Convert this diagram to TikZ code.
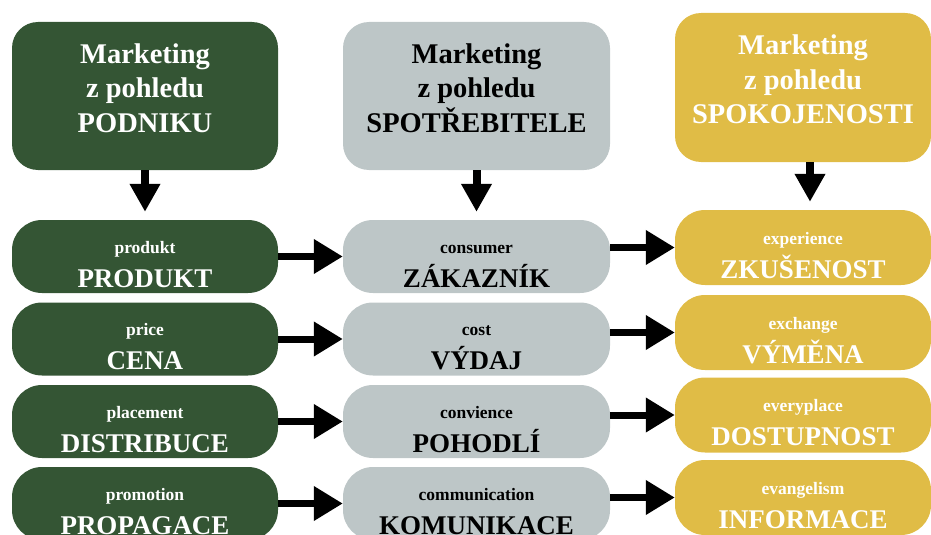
\documentclass[tikz,border=0pt]{standalone}
\usepackage{fontspec}
\setmainfont{Liberation Serif}
\usetikzlibrary{arrows.meta,positioning}
\definecolor{podnik}{RGB}{52,85,52}
\definecolor{spotreb}{RGB}{189,198,199}
\definecolor{spokoj}{RGB}{224,188,70}
\newcommand{\rlab}[2]{\rule{0pt}{28pt}{\fontsize{17.5}{18}\selectfont #1}\\{#2}}
\newcommand{\hlab}[1]{Marketing\\z pohledu\\#1\rule[-16pt]{0pt}{16pt}}

\begin{document}
\begin{tikzpicture}[x=1pt,y=-1pt,
    head/.style={rounded corners=26pt, minimum width=266pt, minimum height=148pt,
      align=center, inner sep=0pt, font=\bfseries\fontsize{28.5}{34.5}\selectfont},
    item/.style={rounded corners=30pt, minimum width=266pt, minimum height=73pt,
      align=center, inner sep=0pt, font=\bfseries\fontsize{27}{34}\selectfont},
    arr/.style={line width=7pt, -{Triangle[length=29pt,width=33pt]}},
    darr/.style={line width=8pt, -{Triangle[length=28pt,width=29pt]}, shorten >=8pt}]

    \useasboundingbox (0,0) rectangle (931,535);

    % draw headers
    \node[head, fill=podnik, text=white] (p0) at (145,96) {\hlab{PODNIKU}};
    \node[head, fill=spotreb, text=black, minimum width=267pt] (s0) at (476.5,96) {\hlab{SPOTŘEBITELE}};
    \node[head, fill=spokoj, text=white, minimum width=256pt, minimum height=149pt] (k0) at (803,87.5) {\hlab{SPOKOJENOSTI}};

    % draw rows
    \foreach \i/\y/\a/\b in {1/256.5/produkt/PRODUKT, 2/339/price/CENA,
        3/421.5/placement/DISTRIBUCE, 4/503.5/promotion/PROPAGACE}
      \node[item, fill=podnik, text=white] (p\i) at (145,\y) {\rlab{\a}{\b}};
    \foreach \i/\y/\a/\b in {1/256.5/consumer/ZÁKAZNÍK, 2/339/cost/VÝDAJ,
        3/421.5/convience/POHODLÍ, 4/503.5/communication/KOMUNIKACE}
      \node[item, fill=spotreb, text=black, minimum width=267pt] (s\i) at (476.5,\y) {\rlab{\a}{\b}};
    \foreach \i/\y/\a/\b in {1/247.5/experience/ZKUŠENOST, 2/332.5/exchange/VÝMĚNA,
        3/415/everyplace/DOSTUPNOST, 4/497.5/evangelism/INFORMACE}
      \node[item, fill=spokoj, text=white, minimum width=256pt, minimum height=75pt] (k\i) at (803,\y) {\rlab{\a}{\b}};

    % draw arrows
    \draw[darr] (p0.south) -- (p1.north);
    \draw[darr] (s0.south) -- (s1.north);
    \draw[darr] ([xshift=7pt]k0.south) -- ([xshift=7pt]k1.north);
    \foreach \i in {1,...,4} {
      \draw[arr] (p\i.east) -- (s\i.west);
      \draw[arr] (s\i.east |- k\i.west) -- (k\i.west);
    }
  \end{tikzpicture}
\end{document}
